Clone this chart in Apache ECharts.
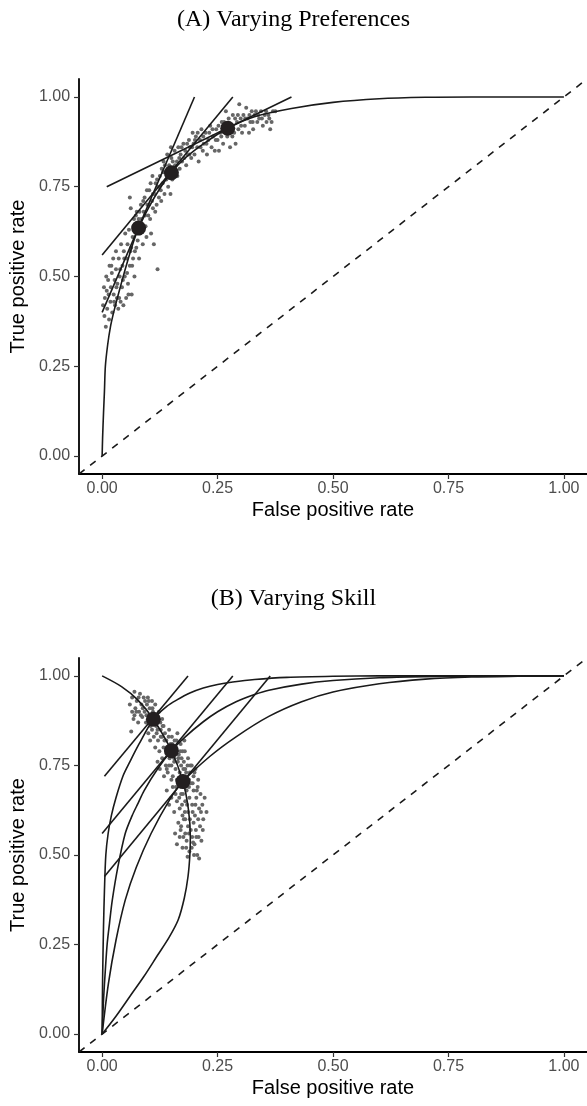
<!DOCTYPE html>
<html>
<head>
<meta charset="utf-8">
<script src="https://cdn.jsdelivr.net/npm/echarts@6/dist/echarts.min.js"></script>
<style>
html, body { margin: 0; padding: 0; background: #fff; }
#chart { width: 587px; height: 1106px; }
</style>
</head>
<body>
<div id="chart"></div>
<script>
var tickValues = [0, 0.25, 0.5, 0.75, 1];
var tickLabels = ['0.00', '0.25', '0.50', '0.75', '1.00'];
var diagonal = [[-0.05, -0.05], [1.05, 1.05]];

// (A) Varying Preferences
var rocA = [[0, 0], [0.001, 0.05], [0.003, 0.12], [0.005, 0.18], [0.007, 0.25], [0.012, 0.31],
    [0.018, 0.36], [0.025, 0.40], [0.035, 0.45], [0.05, 0.52], [0.065, 0.585], [0.079, 0.635],
    [0.1, 0.69], [0.125, 0.745], [0.15, 0.79], [0.18, 0.83], [0.22, 0.87], [0.272, 0.913],
    [0.33, 0.945], [0.41, 0.968], [0.5, 0.985], [0.6, 0.995], [0.7, 0.999], [0.8, 1], [1, 1]];
var tangentA1 = [[0, 0.40], [0.2, 1.0]];
var tangentA2 = [[0, 0.56], [0.283, 1.0]];
var tangentA3 = [[0.01, 0.75], [0.41, 1.0]];
var dotsA = [[0.079, 0.635], [0.150, 0.789], [0.272, 0.913]];
var cloudA = [
    [0.002, 0.42], [0.004, 0.47], [0.006, 0.44], [0.008, 0.36], [0.009, 0.5], [0.011, 0.41], [0.013, 0.49],
    [0.014, 0.45], [0.016, 0.53], [0.018, 0.43], [0.019, 0.47], [0.021, 0.51], [0.022, 0.40], [0.024, 0.55],
    [0.025, 0.45], [0.027, 0.49], [0.028, 0.42], [0.03, 0.52], [0.03, 0.57],
    [0.032, 0.44], [0.033, 0.48], [0.035, 0.41], [0.036, 0.55], [0.038, 0.5], [0.04, 0.43], [0.041, 0.59],
    [0.043, 0.47], [0.044, 0.53], [0.046, 0.42], [0.047, 0.57], [0.049, 0.5], [0.05, 0.62], [0.052, 0.44],
    [0.053, 0.55], [0.055, 0.59], [0.056, 0.48], [0.058, 0.63], [0.06, 0.53], [0.06, 0.72],
    [0.062, 0.69], [0.063, 0.58], [0.064, 0.45], [0.066, 0.61], [0.067, 0.55], [0.069, 0.66], [0.07, 0.5],
    [0.072, 0.63], [0.074, 0.58], [0.075, 0.68], [0.077, 0.6], [0.079, 0.66], [0.08, 0.55], [0.082, 0.62],
    [0.084, 0.7], [0.086, 0.64], [0.088, 0.59], [0.09, 0.68],
    [0.092, 0.72], [0.094, 0.64], [0.096, 0.61], [0.098, 0.7], [0.1, 0.67], [0.102, 0.74], [0.104, 0.66],
    [0.106, 0.62], [0.108, 0.71], [0.109, 0.78], [0.11, 0.69], [0.112, 0.59], [0.114, 0.73], [0.116, 0.76],
    [0.118, 0.7], [0.12, 0.52], [0.121, 0.75], [0.123, 0.72], [0.125, 0.78], [0.127, 0.74], [0.129, 0.8],
    [0.131, 0.76], [0.133, 0.82], [0.135, 0.73], [0.137, 0.79], [0.139, 0.77], [0.141, 0.84], [0.143, 0.75],
    [0.145, 0.81], [0.148, 0.73], [0.15, 0.83], [0.152, 0.77], [0.155, 0.8], [0.157, 0.85], [0.16, 0.79],
    [0.162, 0.82], [0.165, 0.86], [0.168, 0.8], [0.17, 0.84], [0.173, 0.82], [0.176, 0.87], [0.18, 0.85],
    [0.182, 0.81], [0.185, 0.84], [0.188, 0.88], [0.19, 0.86], [0.193, 0.83], [0.196, 0.9], [0.198, 0.87],
    [0.2, 0.84], [0.203, 0.89], [0.206, 0.86], [0.209, 0.82], [0.212, 0.88], [0.215, 0.91], [0.218, 0.85],
    [0.22, 0.87], [0.224, 0.9], [0.227, 0.84], [0.23, 0.88], [0.234, 0.92], [0.237, 0.86], [0.24, 0.89],
    [0.244, 0.85], [0.247, 0.91], [0.25, 0.88],
    [0.253, 0.85], [0.256, 0.9], [0.259, 0.93], [0.262, 0.87], [0.265, 0.91], [0.268, 0.96], [0.271, 0.89],
    [0.274, 0.94], [0.277, 0.86], [0.28, 0.92], [0.283, 0.95], [0.286, 0.9], [0.289, 0.87], [0.292, 0.93],
    [0.295, 0.91], [0.297, 0.98], [0.3, 0.94],
    [0.303, 0.9], [0.306, 0.95], [0.309, 0.92], [0.312, 0.97], [0.315, 0.94], [0.318, 0.9], [0.321, 0.93],
    [0.324, 0.96], [0.327, 0.91], [0.33, 0.95], [0.333, 0.96], [0.336, 0.93], [0.34, 0.94], [0.344, 0.96],
    [0.348, 0.92], [0.352, 0.95], [0.356, 0.93], [0.36, 0.95], [0.364, 0.91], [0.367, 0.93], [0.37, 0.96],
    [0.375, 0.96],
    [0.005, 0.39], [0.01, 0.46], [0.015, 0.38], [0.02, 0.53], [0.026, 0.43], [0.031, 0.47], [0.037, 0.44],
    [0.039, 0.52], [0.045, 0.49], [0.048, 0.55], [0.054, 0.51], [0.057, 0.45], [0.061, 0.57], [0.065, 0.53],
    [0.068, 0.64], [0.071, 0.57], [0.073, 0.67], [0.076, 0.62], [0.081, 0.68], [0.085, 0.66], [0.089, 0.71],
    [0.093, 0.67], [0.097, 0.74], [0.101, 0.7], [0.105, 0.76], [0.11, 0.73], [0.115, 0.68], [0.119, 0.77],
    [0.124, 0.75], [0.128, 0.71], [0.132, 0.79], [0.136, 0.81], [0.14, 0.78], [0.144, 0.8], [0.149, 0.86],
    [0.153, 0.82], [0.158, 0.81], [0.163, 0.78], [0.167, 0.83], [0.172, 0.86], [0.178, 0.83], [0.184, 0.87],
    [0.189, 0.84], [0.195, 0.86], [0.201, 0.88], [0.207, 0.9], [0.213, 0.86], [0.219, 0.89], [0.226, 0.87],
    [0.232, 0.9], [0.239, 0.91], [0.246, 0.88], [0.252, 0.92], [0.258, 0.89], [0.264, 0.93], [0.27, 0.92],
    [0.276, 0.91], [0.282, 0.89], [0.288, 0.94], [0.294, 0.95], [0.301, 0.92], [0.31, 0.94], [0.319, 0.95],
    [0.326, 0.93], [0.338, 0.95], [0.346, 0.94], [0.355, 0.96], [0.362, 0.94]
];

// (B) Varying Skill
var rocB1 = [[0, 0], [0.001, 0.15], [0.003, 0.3], [0.005, 0.4], [0.008, 0.5], [0.013, 0.56], [0.02, 0.61],
    [0.03, 0.66], [0.045, 0.72], [0.06, 0.76], [0.08, 0.81], [0.111, 0.879], [0.14, 0.915], [0.162, 0.933],
    [0.19, 0.952], [0.219, 0.966], [0.25, 0.976], [0.283, 0.983], [0.33, 0.99], [0.4, 0.996], [0.5, 0.999],
    [0.6, 1], [1, 1]];
var rocB2 = [[0, 0], [0.003, 0.095], [0.007, 0.18], [0.011, 0.253], [0.016, 0.31], [0.022, 0.374],
    [0.034, 0.466], [0.05, 0.56], [0.065, 0.61], [0.078, 0.645], [0.091, 0.68], [0.12, 0.74], [0.15, 0.791],
    [0.18, 0.83], [0.219, 0.872], [0.25, 0.9], [0.29, 0.928], [0.33, 0.948], [0.361, 0.96], [0.432, 0.977],
    [0.5, 0.987], [0.6, 0.995], [0.7, 0.998], [0.85, 1], [1, 1]];
var rocB3 = [[0, 0], [0.0136, 0.141], [0.03, 0.262], [0.05, 0.374], [0.074, 0.466], [0.106, 0.56],
    [0.146, 0.654], [0.175, 0.705], [0.233, 0.775], [0.29, 0.83], [0.361, 0.887], [0.432, 0.928],
    [0.5, 0.955], [0.6, 0.978], [0.7, 0.991], [0.8, 0.997], [0.9, 0.999], [1, 1]];
var isoB = [[0, 1], [0.042, 0.97], [0.077, 0.933], [0.111, 0.879], [0.15, 0.791], [0.175, 0.705],
    [0.187, 0.626], [0.191, 0.55], [0.19, 0.5], [0.186, 0.44], [0.178, 0.38], [0.165, 0.32], [0.145, 0.27],
    [0.12, 0.22], [0.09, 0.16], [0.06, 0.105], [0.03, 0.05], [0, 0]];
var tangentB1 = [[0.005, 0.72], [0.186, 1.0]];
var tangentB2 = [[0, 0.56], [0.283, 1.0]];
var tangentB3 = [[0.005, 0.44], [0.364, 1.0]];
var dotsB = [[0.111, 0.879], [0.150, 0.791], [0.175, 0.705]];
var cloudB = [
    [0.06, 0.92], [0.063, 0.845], [0.065, 0.9], [0.068, 0.88], [0.07, 0.956], [0.072, 0.91], [0.075, 0.93],
    [0.078, 0.87], [0.08, 0.9], [0.082, 0.95], [0.085, 0.92], [0.087, 0.885], [0.09, 0.94], [0.092, 0.9],
    [0.095, 0.87], [0.097, 0.92], [0.099, 0.94], [0.1, 0.89], [0.103, 0.91], [0.105, 0.86], [0.108, 0.93],
    [0.11, 0.9], [0.113, 0.87], [0.115, 0.92], [0.118, 0.89], [0.12, 0.85], [0.123, 0.9], [0.126, 0.87],
    [0.13, 0.88], [0.133, 0.86],
    [0.1, 0.84], [0.104, 0.82], [0.108, 0.85], [0.112, 0.83], [0.115, 0.8], [0.118, 0.84], [0.121, 0.82],
    [0.124, 0.79], [0.127, 0.85], [0.13, 0.83], [0.133, 0.8], [0.136, 0.84], [0.139, 0.82], [0.142, 0.78],
    [0.145, 0.85], [0.148, 0.81], [0.151, 0.83], [0.154, 0.79], [0.157, 0.82], [0.16, 0.8], [0.163, 0.84],
    [0.166, 0.78], [0.17, 0.81], [0.174, 0.79], [0.178, 0.82],
    [0.12, 0.76], [0.125, 0.74], [0.13, 0.77], [0.134, 0.72], [0.138, 0.75], [0.142, 0.73], [0.146, 0.77],
    [0.15, 0.75], [0.153, 0.72], [0.156, 0.76], [0.159, 0.74], [0.162, 0.71], [0.165, 0.77], [0.168, 0.73],
    [0.171, 0.75], [0.174, 0.72], [0.177, 0.76], [0.18, 0.74], [0.183, 0.71], [0.186, 0.77], [0.19, 0.73],
    [0.194, 0.75], [0.198, 0.72], [0.202, 0.74], [0.208, 0.71],
    [0.14, 0.68], [0.145, 0.64], [0.15, 0.66], [0.153, 0.69], [0.156, 0.62], [0.159, 0.67], [0.162, 0.65],
    [0.165, 0.7], [0.168, 0.63], [0.171, 0.67], [0.174, 0.61], [0.177, 0.69], [0.18, 0.65], [0.183, 0.68],
    [0.186, 0.62], [0.189, 0.66], [0.192, 0.7], [0.195, 0.64], [0.198, 0.68], [0.201, 0.61], [0.204, 0.66],
    [0.207, 0.69], [0.21, 0.63], [0.213, 0.67], [0.217, 0.64], [0.222, 0.66], [0.226, 0.62],
    [0.158, 0.56], [0.162, 0.53], [0.165, 0.59], [0.168, 0.55], [0.171, 0.58], [0.174, 0.52], [0.177, 0.6],
    [0.18, 0.56], [0.183, 0.54], [0.186, 0.58], [0.189, 0.51], [0.192, 0.57], [0.195, 0.55], [0.198, 0.59],
    [0.2, 0.53], [0.203, 0.57], [0.206, 0.5], [0.209, 0.55], [0.212, 0.58], [0.215, 0.54], [0.218, 0.57],
    [0.21, 0.49], [0.185, 0.495],
    [0.065, 0.94], [0.07, 0.89], [0.074, 0.9], [0.079, 0.94], [0.084, 0.89], [0.088, 0.91], [0.093, 0.93],
    [0.096, 0.89], [0.101, 0.93], [0.106, 0.88], [0.109, 0.91], [0.114, 0.89], [0.117, 0.86], [0.122, 0.88],
    [0.127, 0.83], [0.131, 0.86], [0.135, 0.82], [0.14, 0.8], [0.144, 0.83], [0.147, 0.79], [0.152, 0.81],
    [0.156, 0.77], [0.161, 0.82], [0.164, 0.76], [0.169, 0.79], [0.172, 0.77], [0.176, 0.74], [0.179, 0.79],
    [0.182, 0.73], [0.185, 0.75], [0.188, 0.71], [0.191, 0.75], [0.196, 0.7], [0.2, 0.73], [0.205, 0.68],
    [0.16, 0.69], [0.167, 0.66], [0.173, 0.64], [0.179, 0.62], [0.184, 0.64], [0.19, 0.6], [0.196, 0.62],
    [0.202, 0.64], [0.208, 0.6], [0.214, 0.62], [0.219, 0.6], [0.17, 0.57], [0.176, 0.55], [0.182, 0.52],
    [0.188, 0.56], [0.194, 0.52], [0.199, 0.5], [0.204, 0.55], [0.197, 0.535], [0.18, 0.6], [0.175, 0.67],
    [0.188, 0.69], [0.15, 0.71], [0.145, 0.75], [0.14, 0.74]
];

var sans = 'Liberation Sans';
var serif = 'Liberation Serif';
var ink = '#1a1a1a';

function makeX(i) {
    return {
        gridIndex: i,
        type: 'value',
        min: -0.05,
        max: 1.05,
        name: 'False positive rate',
        nameLocation: 'middle',
        nameGap: 26,
        nameTextStyle: {fontFamily: sans, fontSize: 20, color: '#000'},
        axisLine: {show: true, onZero: false, lineStyle: {color: '#000', width: 1.8}},
        axisTick: {show: true, length: 5, customValues: tickValues, lineStyle: {color: '#333', width: 1.2}},
        axisLabel: {
            customValues: tickValues,
            margin: 7,
            color: '#4d4d4d',
            fontFamily: sans,
            fontSize: 16,
            formatter: function (v) { return tickLabels[tickValues.indexOf(v)]; }
        },
        splitLine: {show: false}
    };
}

function makeY(i) {
    return {
        gridIndex: i,
        type: 'value',
        min: -0.05,
        max: 1.05,
        name: 'True positive rate',
        nameLocation: 'middle',
        nameGap: 47,
        nameTextStyle: {fontFamily: sans, fontSize: 20, color: '#000'},
        axisLine: {show: true, onZero: false, lineStyle: {color: '#000', width: 1.8}},
        axisTick: {show: true, length: 5, customValues: tickValues, lineStyle: {color: '#333', width: 1.2}},
        axisLabel: {
            customValues: tickValues,
            margin: 9,
            color: '#4d4d4d',
            fontFamily: sans,
            fontSize: 16,
            formatter: function (v) { return tickLabels[tickValues.indexOf(v)]; }
        },
        splitLine: {show: false}
    };
}

function curve(i, data, dashed) {
    return {
        type: 'line',
        xAxisIndex: i,
        yAxisIndex: i,
        data: data,
        symbol: 'none',
        smooth: dashed ? false : 0.3,
        clip: true,
        silent: true,
        lineStyle: {color: ink, width: 1.6, type: dashed ? [7, 7] : 'solid'},
        z: 3
    };
}

function cloud(i, data) {
    return {
        type: 'scatter',
        xAxisIndex: i,
        yAxisIndex: i,
        data: data,
        symbolSize: 4,
        silent: true,
        itemStyle: {color: '#666666', opacity: 1},
        z: 2
    };
}

function dots(i, data) {
    return {
        type: 'scatter',
        xAxisIndex: i,
        yAxisIndex: i,
        data: data,
        symbolSize: 15,
        silent: true,
        itemStyle: {color: '#231f20', opacity: 1},
        z: 4
    };
}

var myChart = echarts.init(document.getElementById('chart'));
var option = {
    animation: false,
    backgroundColor: '#fff',
    title: [
        {text: '(A) Varying Preferences', left: 'center', top: 3,
            textStyle: {fontFamily: serif, fontSize: 24, fontWeight: 'normal', color: '#000'}},
        {text: '(B) Varying Skill', left: 'center', top: 582,
            textStyle: {fontFamily: serif, fontSize: 24, fontWeight: 'normal', color: '#000'}}
    ],
    grid: [
        {left: 73, top: 79, width: 518, height: 395},
        {left: 73, top: 658, width: 518, height: 394}
    ],
    xAxis: [makeX(0), makeX(1)],
    yAxis: [makeY(0), makeY(1)],
    series: [
        cloud(0, cloudA),
        curve(0, diagonal, true),
        curve(0, rocA),
        curve(0, tangentA1),
        curve(0, tangentA2),
        curve(0, tangentA3),
        dots(0, dotsA),

        cloud(1, cloudB),
        curve(1, diagonal, true),
        curve(1, rocB1),
        curve(1, rocB2),
        curve(1, rocB3),
        curve(1, isoB),
        curve(1, tangentB1),
        curve(1, tangentB2),
        curve(1, tangentB3),
        dots(1, dotsB)
    ]
};
myChart.setOption(option);
</script>
</body>
</html>
